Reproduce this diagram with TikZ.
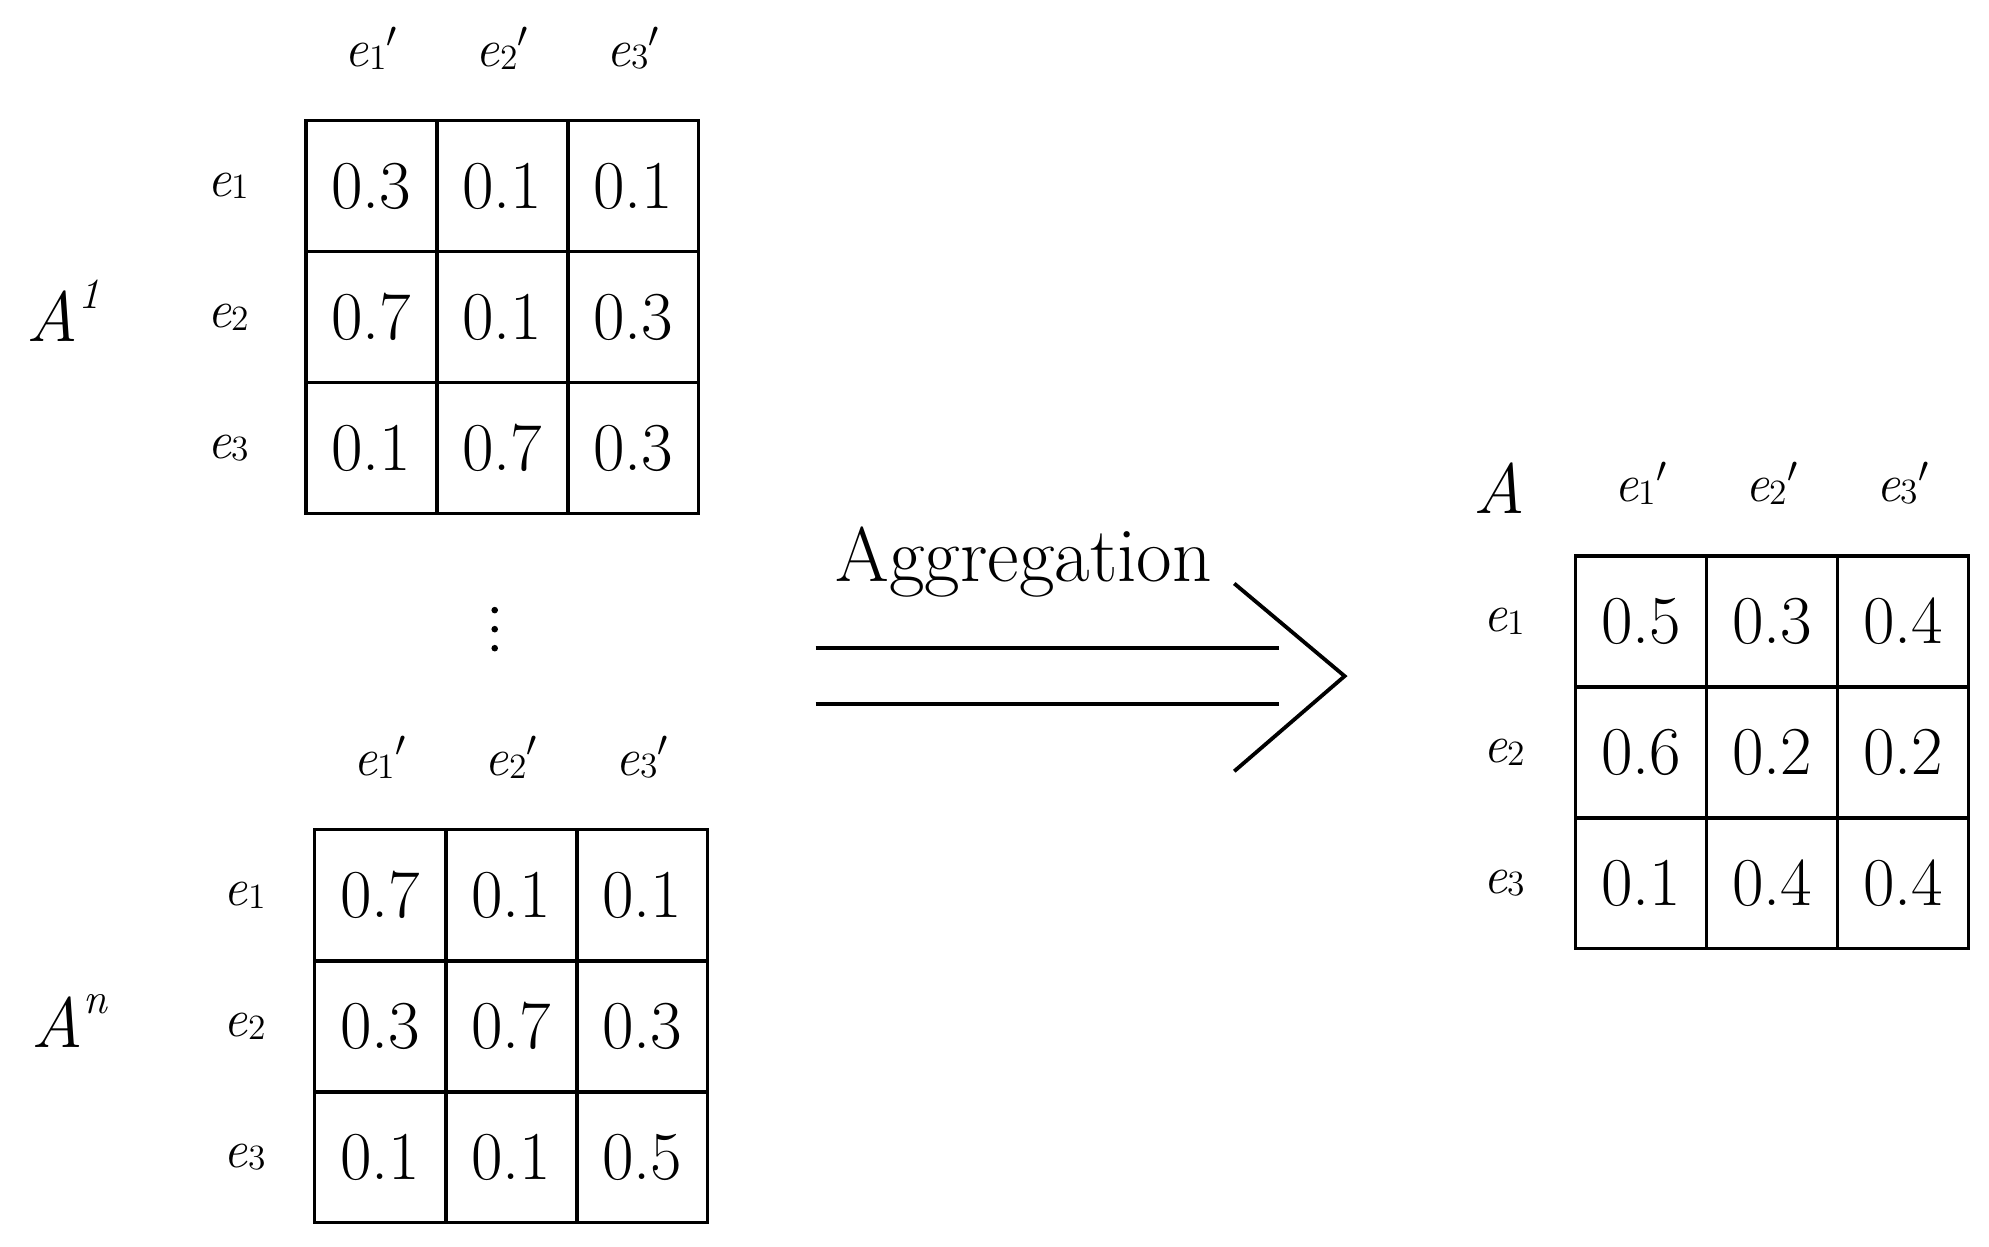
\documentclass[tikz,border=0pt]{standalone}
\begin{document}
\begin{tikzpicture}[x=0.5pt,y=-0.5pt,
  cell/.style={draw,line width=1.3pt,minimum size=51.5pt,inner sep=0,font=\fontsize{27}{30}\selectfont},
  lab/.style={font=\fontsize{21}{24}\selectfont},
  big/.style={font=\fontsize{28}{30}\selectfont}]
\useasboundingbox (0,0) rectangle (1568,983);
\newcommand{\lbl}[1]{\textit{e}\raisebox{-0.1ex}{\fontsize{14}{16}\selectfont #1}}
\newcommand{\mygrid}[5]{%
  \foreach \v [count=\i from 0] in {#4} {
    \pgfmathtruncatemacro{\r}{int(\i/3)}
    \pgfmathtruncatemacro{\c}{mod(\i,3)}
    \node[cell] (#1\r\c) at ({#2+51.7+103.3*\c},{#3+51.7+103.3*\r}) {\v};
  }
  \foreach \k/\n in {0/1,1/2,2/3} {
    \node[lab] (#1h\k) at ({#2+51.7+103.3*\k},{#3-57}) {\lbl{\n}$'$};
    \node[lab] (#1r\k) at ({#2-#5},{#3+51.7+103.3*\k}) {\lbl{\n}};
  }
}
\mygrid{a}{241}{95}{0.3,0.1,0.1,0.7,0.1,0.3,0.1,0.7,0.3}{61}
\mygrid{n}{248}{654}{0.7,0.1,0.1,0.3,0.7,0.3,0.1,0.1,0.5}{55}
\mygrid{m}{1242}{438}{0.5,0.3,0.4,0.6,0.2,0.2,0.1,0.4,0.4}{56}
\node[big] (A1) at (50,245) {\textit{A}\raisebox{1.1ex}{\fontsize{17}{18}\selectfont\textit{1}}};
\node[big] (An) at (55,805) {\textit{A}\raisebox{1.1ex}{\fontsize{17}{18}\selectfont\textit{n}}};
\node[big] (AA) at (1182,385) {\textit{A}};
\foreach \yy in {481,496,511} \fill (390,\yy) circle (2.6);
\node[font=\fontsize{30.5}{32}\selectfont] (agg) at (807,443) {Aggregation};
\coordinate (l1a) at (643,511); \coordinate (l1b) at (1008,511);
\coordinate (l2a) at (643,555); \coordinate (l2b) at (1008,555);
\coordinate (c1) at (973,460); \coordinate (c2) at (1060,533); \coordinate (c3) at (973,608);
\draw[line width=1.5pt] (l1a) -- (l1b);
\draw[line width=1.5pt] (l2a) -- (l2b);
\draw[line width=1.5pt] (c1) -- (c2) -- (c3);
\end{tikzpicture}
\end{document}
